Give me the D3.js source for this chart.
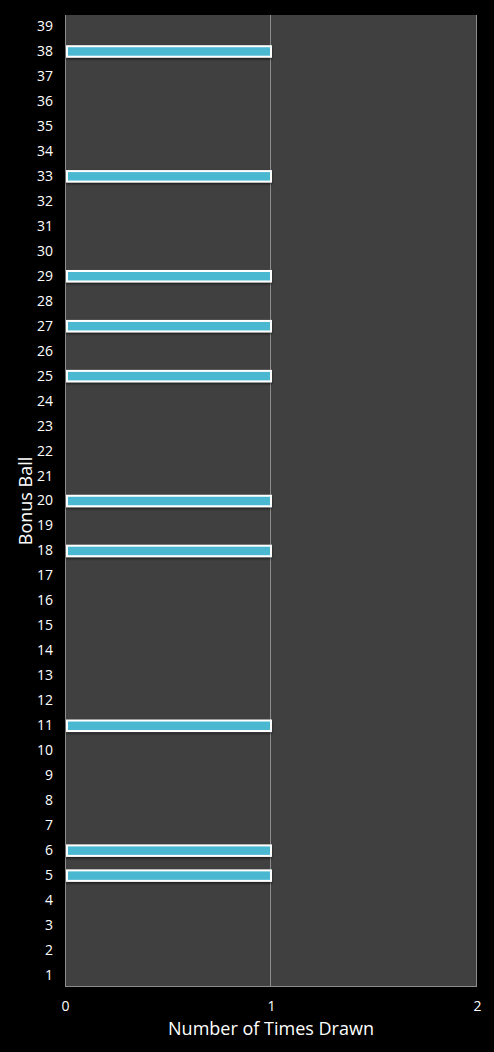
<!DOCTYPE html>
<html>
<head>
<meta charset="utf-8">
<script src="https://cdn.jsdelivr.net/npm/d3@7"></script>
<style>
  html, body { margin: 0; padding: 0; background: #000; }
  text { font-family: "Open Sans", "DejaVu Sans", sans-serif; fill: #fff; }
</style>
</head>
<body>
<div id="chart"></div>
<script>
// bonus ball numbers 1..39
const balls = d3.range(1, 40);
// balls that were drawn, and how many times
const drawnBalls = [5, 6, 11, 18, 20, 25, 27, 29, 33, 38];
const drawnCounts = [1, 1, 1, 1, 1, 1, 1, 1, 1, 1];
const xTicks = [0, 1, 2];

const W = 494, H = 1052;
const margin = { top: 15, right: 17, bottom: 65, left: 65 };
const width = W - margin.left - margin.right;
const height = H - margin.top - margin.bottom;

const svg = d3.select("#chart").append("svg")
  .attr("width", W)
  .attr("height", H);

svg.append("rect").attr("width", W).attr("height", H).attr("fill", "#000");

const defs = svg.append("defs");
const shadow = defs.append("filter").attr("id", "shadow")
  .attr("x", "-5%").attr("y", "-50%").attr("width", "110%").attr("height", "200%");
shadow.append("feDropShadow")
  .attr("dx", 0).attr("dy", 1.5).attr("stdDeviation", 1)
  .attr("flood-color", "#000").attr("flood-opacity", 0.6);

const g = svg.append("g")
  .attr("transform", `translate(${margin.left},${margin.top})`);

const x = d3.scaleLinear().domain([0, 2]).range([0, width]);
const y = d3.scaleBand()
  .domain(balls.slice().reverse().map(String))
  .range([-1, height + 1])
  .paddingInner(0.58)
  .paddingOuter(0.29);

// plot background
g.append("rect")
  .attr("width", width)
  .attr("height", height)
  .attr("fill", "#404040");

// vertical gridlines
g.selectAll(".grid")
  .data(xTicks.slice(1))
  .enter().append("line")
  .attr("x1", d => x(d) - 0.5).attr("x2", d => x(d) - 0.5)
  .attr("y1", 0).attr("y2", height)
  .attr("stroke", "#8c8c8c")
  .attr("stroke-width", 1);

// left and bottom axis lines
g.append("line").attr("x1", 0.5).attr("x2", 0.5).attr("y1", 0).attr("y2", height)
  .attr("stroke", "#8c8c8c");
g.append("line").attr("x1", 0).attr("x2", width).attr("y1", height - 0.5).attr("y2", height - 0.5)
  .attr("stroke", "#8c8c8c");

// bars
const data = drawnBalls.map((b, i) => ({ ball: String(b), count: drawnCounts[i] }));
g.selectAll(".bar")
  .data(data)
  .enter().append("rect")
  .attr("x", x(0) + 2)
  .attr("y", d => y(d.ball))
  .attr("width", d => x(d.count) - x(0) - 2)
  .attr("height", y.bandwidth())
  .attr("fill", "#4bb8d2")
  .attr("stroke", "#ffffff")
  .attr("stroke-width", 2)
  .attr("filter", "url(#shadow)");

// y tick labels
const yAxis = g.append("g")
  .call(d3.axisLeft(y).tickSize(0).tickPadding(12));
yAxis.select(".domain").remove();
yAxis.selectAll("text")
  .attr("fill", "#fff")
  .style("font-size", "14px");

// x tick labels
const xAxis = g.append("g")
  .attr("transform", `translate(0,${height})`)
  .call(d3.axisBottom(x).tickValues(xTicks).tickFormat(d3.format("d")).tickSize(0).tickPadding(14));
xAxis.select(".domain").remove();
xAxis.selectAll("text")
  .attr("fill", "#fff")
  .style("font-size", "14px");

// axis titles
svg.append("text")
  .attr("x", margin.left + width / 2)
  .attr("y", 1035)
  .attr("text-anchor", "middle")
  .style("font-size", "18px")
  .text("Number of Times Drawn");

svg.append("text")
  .attr("transform", `translate(32,${margin.top + height / 2}) rotate(-90)`)
  .attr("text-anchor", "middle")
  .style("font-size", "18px")
  .text("Bonus Ball");
</script>
</body>
</html>
